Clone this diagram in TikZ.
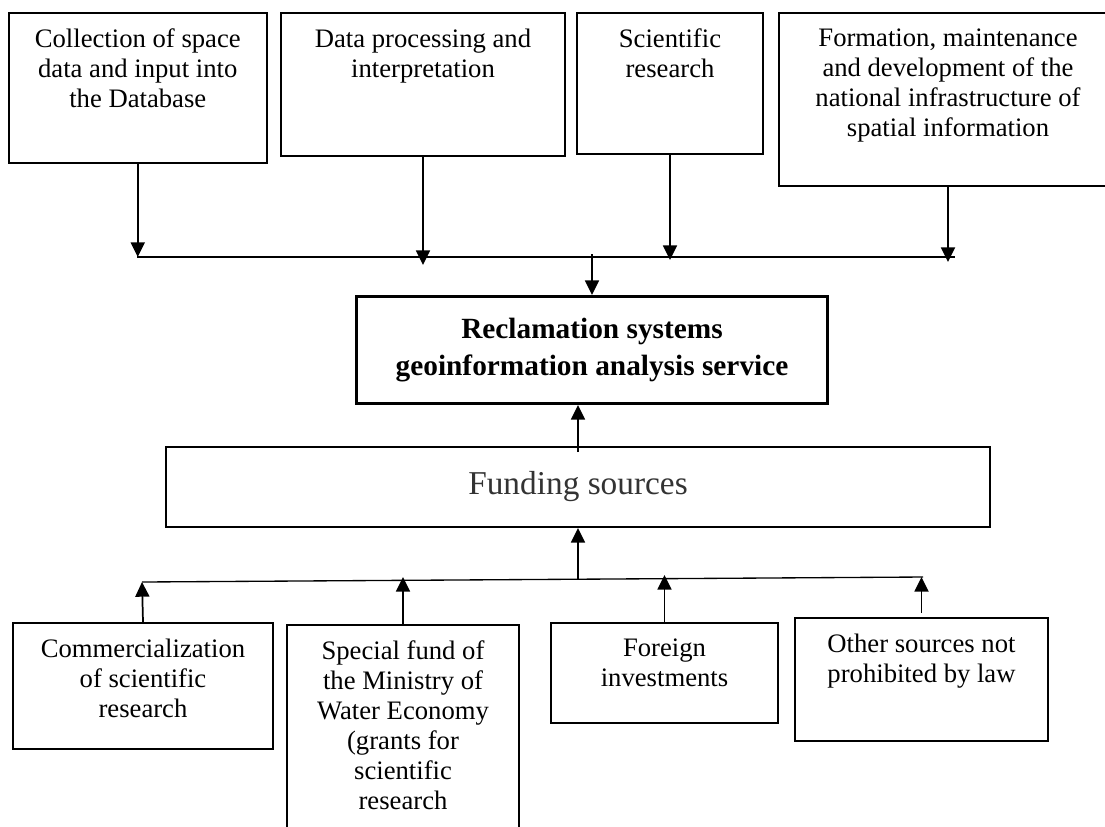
\documentclass[tikz,border=0pt]{standalone}
\usepackage{fontspec}
\setmainfont{Liberation Serif}
\usetikzlibrary{arrows.meta}

\tikzset{every picture/.style={line width=0.75pt}}
\tikzset{
  box/.style={draw, line width=1.5pt, inner sep=0pt, anchor=north west},
  boxtext/.style={anchor=north, inner sep=0pt, align=center, font=\fontsize{20}{22.5}\selectfont},
  arr/.style={line width=1.3pt, -{Triangle[length=11pt,width=10.5pt]}},
  bus/.style={line width=1pt}
}

\begin{document}
\begin{tikzpicture}[x=0.75pt,y=0.75pt,yscale=-1,xscale=1]
\useasboundingbox (0,0) rectangle (1105,826);

%Shape: Rectangle
\node[box, minimum width=193.9pt, minimum height=112.5pt] (collect) at (7.5,12) {};
%Shape: Rectangle
\node[box, minimum width=213pt, minimum height=107.25pt] (process) at (280,12) {};
%Shape: Rectangle
\node[box, minimum width=139.5pt, minimum height=105.75pt] (research) at (576,12) {};
%Shape: Rectangle
\node[box, minimum width=253.5pt, minimum height=129.75pt] (nsdi) at (778,12) {};

%Shape: Rectangle
\node[box, line width=2.25pt, minimum width=353.25pt, minimum height=80.25pt, align=center, font=\bfseries\fontsize{22}{27.75}\selectfont] (service) at (355,295) {Reclamation systems\\geoinformation analysis service};
%Shape: Rectangle
\node[box, minimum width=618pt, minimum height=60pt, font=\fontsize{25}{30}\selectfont, text=black!80] (funding) at (165,446) {Funding sources};

%Shape: Rectangle
\node[box, minimum width=195pt, minimum height=94.5pt] (commerce) at (12,622) {};
%Shape: Rectangle
\node[box, minimum width=174pt, minimum height=165pt] (ministry) at (286,624) {};
%Shape: Rectangle
\node[box, minimum width=170.25pt, minimum height=75pt] (foreign) at (550,622) {};
%Shape: Rectangle
\node[box, minimum width=189.75pt, minimum height=92.25pt] (other) at (794,617) {};

% Text Node
\node[boxtext] (collectT) at ([yshift=12.5pt]collect.north) {Collection of space\\data and input into\\the Database};
% Text Node
\node[boxtext] (processT) at ([yshift=12.5pt]process.north) {Data processing and\\interpretation};
% Text Node
\node[boxtext] (researchT) at ([yshift=12.5pt]research.north) {Scientific\\research};
% Text Node
\node[boxtext] (nsdiT) at ([yshift=12.5pt]nsdi.north) {Formation, maintenance\\and development of the\\national infrastructure of\\spatial information};
% Text Node
\node[boxtext] (commerceT) at ([yshift=12.5pt]commerce.north) {Commercialization\\of scientific\\research};
% Text Node
\node[boxtext] (ministryT) at ([yshift=12.5pt]ministry.north) {Special fund of\\the Ministry of\\Water Economy\\(grants for\\scientific\\research};
% Text Node
\node[boxtext] (foreignT) at ([yshift=12.5pt]foreign.north) {Foreign\\investments};
% Text Node
\node[boxtext] (otherT) at ([yshift=12.5pt]other.north) {Other sources not\\prohibited by law};

\coordinate (topL) at (137,257);
\coordinate (topR) at (955,257);
\coordinate (botL) at (142,582);
\coordinate (botR) at (923,577);

%Straight Lines
\draw[bus] (topL) -- (topR);
\draw[arr] (collect.south) -- (collect.south |- topL);
\draw[arr] (process.south) -- ++(0,108);
\draw[arr] (research.south) -- ++(0,105);
\draw[arr] (nsdi.south) -- ++(0,75);
\draw[arr] (service.north |- 0,254) -- (service.north);

%Straight Lines
\draw[arr] ([yshift=4.5pt]funding.north) -- (funding.north |- service.south);
\draw[arr] (funding.south |- 0,579) -- (funding.south);

%Straight Lines
\draw[bus] (botL) -- (botR);
\draw[arr] (commerce.north) -- (botL);
\draw[arr] (ministry.north) -- ++(0,-47);
\draw[arr] (foreign.north) -- ++(0,-47);
\draw[arr] ([yshift=-3pt]other.north) -- ++(0,-36);

\end{tikzpicture}
\end{document}
